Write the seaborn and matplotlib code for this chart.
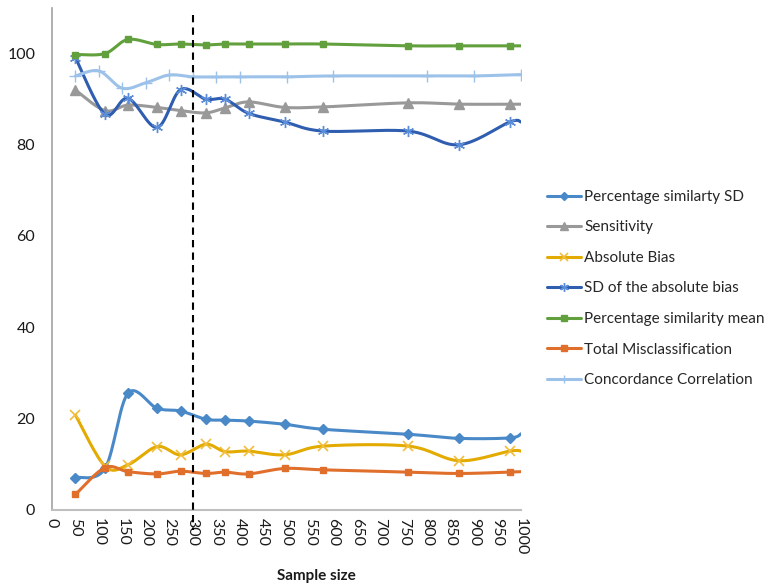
import numpy as np
import pandas as pd
import seaborn as sns
import matplotlib
matplotlib.use("Agg")
import matplotlib.pyplot as plt
from matplotlib.lines import Line2D

# sample sizes (the last point at 1000 carries no marker in the original)
sample_size= [50, 113, 162, 224, 274, 328, 369, 419, 496, 578, 760, 868, 976, 1000]
conc_size= [50, 100, 150, 200, 250, 300, 350, 400, 500, 600, 800, 900, 1000]

pct_sim_sd= [7.0, 9.0, 25.5, 22.2, 21.6, 19.8, 19.6, 19.4, 18.7, 17.6, 16.5, 15.6, 15.7, 16.6]
sensitivity= [92.0, 87.5, 88.7, 88.2, 87.5, 87.0, 88.1, 89.4, 88.2, 88.3, 89.2, 88.9, 88.9, 88.9]
abs_bias= [20.7, 9.5, 9.8, 13.8, 12.0, 14.3, 12.7, 12.8, 12.0, 13.9, 13.9, 10.7, 12.8, 12.8]
sd_abs_bias= [99.1, 86.7, 90.2, 83.8, 92.1, 90.0, 90.0, 86.9, 85.0, 83.0, 83.0, 80.0, 85.0, 85.0]
pct_sim_mean= [99.8, 100.0, 103.1, 102.0, 102.1, 101.9, 102.1, 102.1, 102.1, 102.1, 101.7, 101.7, 101.7, 101.7]
misclass= [3.3, 9.2, 8.3, 7.8, 8.4, 7.9, 8.2, 7.8, 9.0, 8.7, 8.2, 7.9, 8.2, 8.3]
concordance= [95.1, 96.2, 92.4, 93.6, 95.3, 94.9, 94.9, 94.9, 94.9, 95.1, 95.1, 95.1, 95.4]

cutoff= 300
x_ticks= list(range(0, 1001, 50))
y_ticks= [0, 20, 40, 60, 80, 100]


def smooth(xs, ys, n=30):
    # excel style smoothed line: catmull-rom bezier through the points
    p= np.column_stack([xs, ys]).astype(float)
    p_ext= np.vstack([p[0], p, p[-1]])
    t= np.linspace(0, 1, n)[:, None]
    out= []
    for i in range(len(p) - 1):
        p0, p1, p2, p3= p_ext[i], p_ext[i + 1], p_ext[i + 2], p_ext[i + 3]
        c1= p1 + (p2 - p0) / 6
        c2= p2 - (p3 - p1) / 6
        seg= ((1 - t) ** 3) * p1 + 3 * ((1 - t) ** 2) * t * c1 + 3 * (1 - t) * t ** 2 * c2 + t ** 3 * p2
        out.append(seg if i == 0 else seg[1:])
    out= np.vstack(out)
    return out[:, 0], out[:, 1]


series= [
    ("Percentage similarty SD", sample_size, pct_sim_sd, "#4A89C8", "D", 5.5, "#4A89C8", 1.0),
    ("Sensitivity", sample_size, sensitivity, "#999999", "^", 7, "#999999", 1.0),
    ("Absolute Bias", sample_size, abs_bias, "#E3AA00", "x", 7, "#F0BE3A", 1.2),
    ("SD of the absolute bias", sample_size, sd_abs_bias, "#2F5DAF", (6, 2, 0), 8, "#5B8DD9", 1.0),
    ("Percentage similarity mean", sample_size, pct_sim_mean, "#62A03E", "s", 5, "#62A03E", 1.0),
    ("Total Misclassification", sample_size, misclass, "#E06F2C", "s", 5, "#E06F2C", 1.0),
    ("Concordance Correlation", conc_size, concordance, "#9DC2EA", "+", 8, "#9DC2EA", 1.0),
]

sns.set_theme(style="white")
plt.rcParams["font.family"]= ["Lato", "DejaVu Sans"]

fig= plt.figure(figsize=(7.73, 5.87), dpi=100)
ax= fig.add_axes([52 / 773, 1 - 509.5 / 587, 469 / 773, 501.5 / 587])

handles= []
for name, xs, ys, col, mk, ms, mcol, mew in series:
    sx, sy= smooth(xs, ys)
    df= pd.DataFrame({"x": sx, "y": sy})
    sns.lineplot(data=df, x="x", y="y", sort=False, estimator=None, color=col, lw=2.2, ax=ax)
    n_mark= len(xs) if name == "Concordance Correlation" else len(xs) - 1
    ax.plot(xs[:n_mark], ys[:n_mark], ls="none", marker=mk, ms=ms, color=mcol, mec=mcol, mew=mew)
    handles.append(Line2D([], [], color=col, lw=2.2, marker=mk, ms=ms * 0.8, mfc=mcol, mec=mcol, mew=mew, label=name))

ax.plot([cutoff, cutoff], [108.4, -4.5], color="black", ls=(0, (3.5, 2.5)), lw=1.5, clip_on=False, zorder=5)

ax.set_xlim(0, 1000)
ax.set_ylim(0, 110)
ax.set_xticks(x_ticks)
ax.set_xticklabels([str(v) for v in x_ticks], rotation=270, fontsize=11.5, color="#1a1a1a")
ax.set_yticks(y_ticks)
ax.set_yticklabels([str(v) for v in y_ticks], fontsize=11.5, color="#1a1a1a")
ax.tick_params(axis="x", length=0, pad=6)
ax.tick_params(axis="y", length=0, pad=12)

ax.set_xlabel("Sample size", fontsize=11, fontweight="bold", color="#1a1a1a")
ax.set_ylabel("")
ax.xaxis.set_label_coords(0.563, -0.119)

sns.despine(ax=ax)
ax.spines["left"].set_color("#A6A6A6")
ax.spines["bottom"].set_color("#BFBFBF")
ax.spines["bottom"].set_linewidth(1.5)

fig.legend(handles=handles, loc="center left", bbox_to_anchor=(547 / 773, 1 - 288.5 / 587),
           frameon=False, fontsize=11, handlelength=2.2, handletextpad=0.25,
           labelspacing=1.08, borderpad=0, borderaxespad=0)

fig.savefig("out.png", dpi=100)
